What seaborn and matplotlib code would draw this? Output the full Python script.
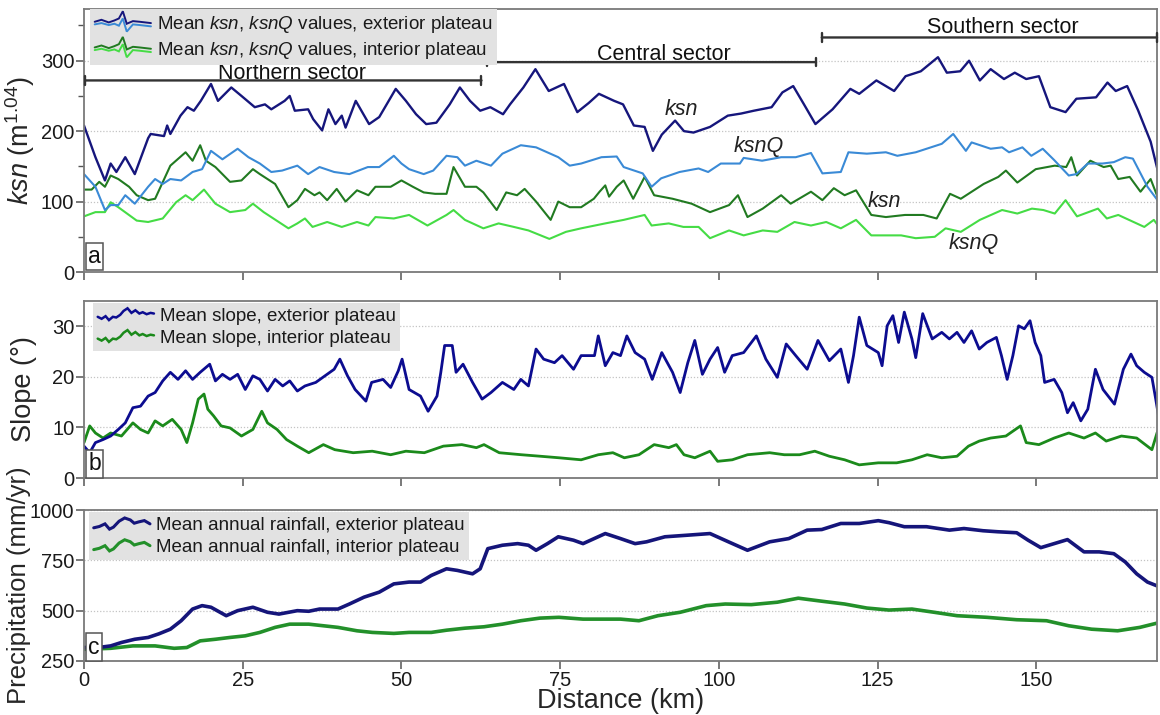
import matplotlib
matplotlib.use("Agg")
import matplotlib.pyplot as plt
import seaborn as sns
from matplotlib.legend_handler import HandlerBase
from matplotlib.lines import Line2D

# ---------------- data ----------------
distance_ticks = [0, 25, 50, 75, 100, 125, 150]

# panel a: ksn / ksnQ
ksn_ext_km = [0, 1.8, 3.3, 4.2, 5.1, 6.5, 8.0, 10.1, 10.5, 12.6,
              13.1, 13.6, 15.2, 16.3, 17.3, 18.4, 20.0, 21.1, 23.2, 24.8,
              26.9, 28.5, 29.5, 31.6, 32.4, 33.2, 35.3, 36.1, 37.5, 38.5,
              39.6, 40.6, 41.2, 42.8, 44.9, 46.5, 49.1, 50.7, 52.3, 53.9,
              55.5, 57.6, 59.2, 60.8, 62.4, 64.0, 66.0, 67.1, 69.2, 71.1,
              73.2, 75.6, 77.7, 79.5, 81.1, 83.5, 84.9, 86.6, 88.3, 89.6,
              91.0, 93.1, 94.5, 96.0, 98.6, 101.4, 103.5, 105.5, 108.3, 110.0,
              111.7, 113.4, 115.2, 117.9, 120.7, 122.1, 124.8, 127.6, 129.4, 131.8,
              134.5, 135.9, 138.0, 139.4, 141.1, 142.8, 144.9, 146.6, 148.4, 150.4,
              152.2, 154.6, 156.3, 159.4, 161.2, 162.5, 164.3, 166.0, 168.0, 169.5]
ksn_ext = [208, 163, 130, 154, 142, 163, 139, 190, 196, 193,
           208, 196, 222, 234, 229, 243, 267, 243, 262, 250,
           234, 238, 231, 243, 250, 229, 231, 217, 201, 231,
           210, 222, 205, 243, 210, 220, 260, 243, 224, 210,
           212, 238, 262, 243, 229, 234, 224, 238, 262, 288,
           257, 267, 227, 240, 253, 243, 238, 208, 206, 172,
           195, 215, 200, 198, 206, 222, 225, 229, 234, 255,
           264, 238, 210, 231, 260, 253, 272, 257, 278, 285,
           305, 283, 285, 300, 272, 288, 274, 283, 274, 278,
           234, 227, 246, 248, 269, 257, 264, 230, 185, 130]

ksnq_ext_km = [0, 1.8, 3.3, 4.2, 5.4, 6.5, 8.0, 10.1, 11.2, 12.4,
               13.6, 15.3, 17.1, 18.6, 20.0, 21.8, 24.2, 25.9, 27.7, 29.5,
               31.2, 33.6, 35.3, 37.1, 39.4, 41.8, 44.7, 46.5, 48.8, 50.0,
               51.2, 53.5, 55.0, 57.1, 58.8, 60.0, 61.8, 64.1, 65.9, 68.8,
               71.2, 74.7, 76.5, 78.3, 81.5, 83.9, 85.0, 88.0, 89.4, 90.9,
               93.8, 96.8, 98.3, 100.3, 103.3, 103.9, 106.8, 109.8, 112.1, 114.5,
               116.3, 119.2, 120.4, 123.3, 126.3, 128.1, 131.0, 135.1, 136.9, 138.9,
               139.8, 142.8, 144.6, 145.7, 147.8, 149.2, 151.0, 152.8, 155.1, 156.3,
               158.1, 160.4, 162.2, 164.0, 165.2, 167.5, 169.5]
ksnq_ext = [139, 121, 88, 95, 95, 109, 97, 121, 132, 125,
            132, 130, 142, 146, 172, 160, 175, 163, 154, 142,
            144, 151, 139, 149, 142, 139, 149, 149, 165, 154,
            146, 139, 144, 165, 163, 151, 158, 151, 168, 180,
            177, 163, 151, 154, 163, 164, 149, 140, 121, 133,
            142, 147, 142, 154, 154, 162, 158, 163, 163, 169,
            140, 142, 170, 168, 170, 165, 170, 182, 196, 172,
            184, 175, 177, 170, 177, 165, 175, 159, 137, 139,
            154, 154, 156, 163, 161, 121, 97]

ksn_int_km = [0, 1.2, 2.4, 3.3, 4.2, 5.4, 7.1, 8.3, 10.1, 11.2,
              13.6, 16.0, 17.1, 18.3, 19.2, 20.7, 23.0, 24.8, 26.6, 27.7,
              30.1, 32.2, 33.6, 34.8, 36.3, 37.1, 38.3, 39.8, 41.2, 43.0,
              44.8, 45.9, 48.3, 50.0, 51.8, 53.5, 55.3, 57.1, 58.2, 60.0,
              61.8, 62.9, 65.0, 66.5, 68.2, 69.4, 71.2, 73.5, 74.7, 76.5,
              78.3, 80.3, 81.2, 82.1, 82.7, 83.9, 85.0, 86.5, 88.3, 89.8,
              92.7, 95.7, 98.6, 101.6, 103.0, 104.5, 106.9, 109.8, 111.3, 114.5,
              116.3, 118.1, 119.8, 121.6, 124.0, 126.3, 129.3, 132.2, 134.3, 136.4,
              138.1, 141.7, 144.0, 145.2, 147.0, 149.9, 152.9, 154.7, 155.5, 156.4,
              158.5, 160.6, 161.7, 162.9, 164.7, 166.4, 168.0, 169.5]
ksn_int = [117, 117, 128, 121, 137, 132, 121, 109, 102, 104,
           151, 170, 158, 180, 158, 149, 128, 130, 146, 139,
           125, 92, 102, 118, 109, 113, 102, 118, 100, 116,
           109, 121, 121, 130, 121, 113, 111, 111, 149, 121,
           121, 113, 88, 113, 109, 118, 100, 74, 100, 92,
           92, 104, 114, 123, 107, 121, 130, 104, 135, 109,
           104, 97, 85, 95, 109, 78, 90, 109, 97, 114,
           102, 119, 109, 116, 81, 78, 81, 81, 76, 111,
           104, 125, 135, 144, 127, 146, 151, 149, 163, 137,
           158, 149, 151, 132, 135, 114, 132, 97]

ksnq_int_km = [0, 1.8, 3.3, 4.2, 5.4, 8.3, 10.1, 12.4, 14.5, 16.0,
               17.1, 18.9, 20.7, 23.0, 25.4, 26.6, 28.3, 32.2, 33.6, 34.8,
               36.0, 38.3, 40.6, 43.0, 44.8, 45.9, 48.8, 51.2, 54.1, 57.1,
               58.2, 60.0, 62.9, 65.3, 67.7, 70.0, 73.3, 75.9, 78.3, 82.1,
               85.0, 88.3, 89.4, 92.1, 94.4, 96.8, 98.6, 101.6, 103.9, 106.9,
               109.2, 111.9, 114.5, 116.9, 119.2, 121.6, 124.0, 126.3, 128.7, 131.0,
               134.0, 135.7, 138.1, 141.1, 144.6, 147.0, 149.3, 151.1, 152.9, 154.6,
               156.4, 159.7, 161.1, 162.9, 167.0, 168.5, 169.5]
ksnq_int = [79, 85, 85, 99, 92, 73, 71, 76, 99, 109,
            102, 117, 97, 85, 88, 97, 85, 62, 69, 76,
            64, 71, 64, 71, 66, 78, 76, 81, 66, 81,
            88, 74, 62, 69, 64, 59, 47, 57, 62, 69,
            74, 81, 66, 69, 64, 64, 48, 59, 52, 59,
            57, 71, 66, 71, 62, 74, 52, 52, 52, 48,
            50, 62, 57, 74, 88, 83, 90, 88, 83, 102,
            79, 90, 76, 81, 64, 74, 62]

# panel b: slope
slope_ext_km = [0, 0.9, 1.8, 3.0, 4.2, 5.4, 6.5, 7.7, 8.9, 10.1,
                11.2, 12.4, 13.6, 14.8, 16.0, 17.1, 18.3, 19.8, 20.7, 21.8,
                23.0, 24.2, 25.4, 26.6, 27.7, 28.9, 30.1, 31.3, 32.4, 33.6,
                34.8, 36.5, 38.3, 39.4, 40.3, 41.5, 42.7, 44.4, 45.3, 47.1,
                48.3, 49.5, 50.1, 51.2, 53.0, 54.2, 55.6, 56.2, 56.8, 58.0,
                58.6, 59.7, 61.2, 62.7, 64.1, 65.9, 67.7, 68.8, 70.0, 71.2,
                72.4, 74.1, 75.3, 77.1, 78.3, 80.4, 81.0, 82.1, 83.3, 84.5,
                85.5, 86.8, 88.3, 89.5, 91.0, 92.7, 93.9, 95.1, 96.2, 97.4,
                98.6, 99.8, 100.9, 102.1, 103.9, 105.9, 107.4, 109.2, 110.6, 112.1,
                113.9, 115.6, 117.4, 119.2, 120.4, 121.2, 122.1, 123.3, 125.1, 125.7,
                126.5, 127.4, 128.3, 129.2, 130.4, 131.0, 132.1, 133.6, 135.1, 136.3,
                137.5, 138.6, 139.8, 141.0, 142.2, 143.7, 144.5, 145.4, 146.3, 147.2,
                148.1, 149.0, 149.8, 150.7, 151.3, 152.8, 154.0, 154.9, 155.8, 157.0,
                158.1, 159.3, 160.5, 162.3, 163.7, 164.9, 165.8, 167.0, 168.2, 168.8,
                169.5]
slope_ext = [6.3, 5.0, 7.0, 7.6, 8.3, 9.6, 10.9, 13.9, 14.2, 16.2,
             16.9, 19.2, 20.9, 19.5, 21.2, 19.5, 20.9, 22.5, 19.2, 20.5,
             19.5, 20.5, 17.5, 20.2, 19.5, 17.2, 19.5, 18.2, 19.2, 17.2,
             18.2, 18.9, 20.5, 21.5, 23.5, 20.2, 17.5, 15.2, 18.9, 19.5,
             17.9, 21.2, 23.5, 17.5, 16.2, 13.2, 16.2, 20.9, 26.2, 26.2,
             20.9, 22.5, 18.9, 15.6, 16.9, 18.9, 17.5, 19.5, 18.2, 25.5,
             23.5, 22.8, 24.2, 21.5, 24.2, 24.2, 28.1, 22.2, 24.8, 24.2,
             28.1, 24.8, 23.5, 19.5, 24.8, 20.9, 16.9, 22.8, 27.2, 20.5,
             23.5, 25.8, 20.9, 24.2, 24.8, 28.1, 23.5, 19.9, 26.5, 24.2,
             21.5, 27.2, 23.2, 25.5, 18.9, 24.2, 31.8, 26.2, 24.8, 22.2,
             30.1, 32.1, 26.8, 32.8, 27.5, 23.8, 32.5, 27.5, 28.8, 27.5,
             28.8, 26.8, 29.1, 25.5, 26.8, 27.8, 24.2, 19.5, 24.2, 30.1,
             29.5, 31.1, 26.8, 24.2, 18.9, 19.5, 16.9, 12.9, 14.9, 11.3,
             13.6, 21.5, 17.5, 14.6, 21.5, 24.5, 22.2, 20.9, 19.9, 15.6,
             10.3]

slope_int_km = [0, 0.9, 1.8, 3.0, 4.2, 5.9, 7.7, 8.9, 10.1, 11.2,
                12.4, 13.9, 15.3, 16.2, 17.1, 18.0, 18.9, 19.5, 20.4, 21.6,
                23.0, 24.8, 26.6, 28.0, 28.9, 30.4, 31.9, 33.6, 35.4, 37.7,
                39.5, 42.4, 45.4, 48.3, 50.7, 53.6, 56.6, 59.5, 61.8, 63.0,
                65.4, 68.9, 71.9, 74.8, 78.3, 81.0, 83.3, 85.1, 87.4, 89.8,
                92.1, 93.3, 94.5, 96.2, 98.6, 99.8, 102.1, 104.5, 108.0, 110.3,
                112.7, 115.1, 117.4, 119.8, 122.1, 125.1, 128.0, 130.4, 132.8, 135.1,
                137.5, 139.3, 141.0, 142.8, 145.2, 147.5, 148.4, 150.4, 152.8, 155.1,
                157.5, 159.3, 161.0, 163.4, 165.8, 168.2, 169.0, 169.5]
slope_int = [7.0, 10.3, 8.9, 7.9, 8.9, 8.3, 10.9, 9.6, 8.9, 11.3,
             10.3, 11.6, 9.6, 7.0, 10.9, 15.6, 16.6, 13.6, 12.3, 10.3,
             9.9, 8.3, 9.6, 13.2, 10.9, 9.6, 7.6, 6.3, 5.0, 6.6,
             5.6, 5.0, 5.3, 4.6, 5.3, 5.0, 6.3, 6.6, 6.0, 6.6,
             5.0, 4.6, 4.3, 4.0, 3.6, 4.6, 5.0, 4.0, 4.6, 6.6,
             6.0, 6.6, 4.6, 4.0, 5.3, 3.3, 3.6, 4.6, 5.0, 4.6,
             4.6, 5.3, 4.3, 3.6, 2.6, 3.0, 3.0, 3.6, 4.6, 4.0,
             4.3, 6.3, 7.3, 7.9, 8.3, 10.3, 7.0, 6.6, 7.9, 8.9,
             7.9, 8.9, 7.3, 8.3, 7.9, 5.6, 8.9, 10.3]

# panel c: precipitation
rain_ext_km = [0, 2.5, 4.2, 5.9, 8.0, 10.1, 11.8, 13.6, 15.3, 17.1,
               18.6, 20.0, 22.4, 24.2, 26.6, 28.9, 30.7, 33.6, 35.4, 37.1,
               40.0, 41.8, 44.1, 46.5, 48.8, 51.2, 53.0, 54.7, 57.1, 58.8,
               61.2, 62.4, 63.6, 65.9, 68.3, 70.0, 71.2, 73.0, 74.7, 77.1,
               78.6, 82.1, 84.5, 86.8, 88.6, 91.5, 95.1, 98.6, 101.5, 104.5,
               108.0, 111.0, 113.9, 116.2, 119.2, 122.1, 125.1, 126.8, 129.2, 132.7,
               136.3, 138.6, 141.6, 143.9, 146.9, 148.7, 150.7, 152.8, 154.9, 157.5,
               159.9, 162.2, 164.0, 165.8, 167.5, 169.5]
rain_ext = [317, 318, 325, 342, 358, 367, 385, 408, 450, 508,
            525, 517, 475, 500, 517, 492, 483, 500, 497, 508,
            508, 533, 567, 592, 633, 642, 642, 675, 708, 700,
            683, 708, 808, 825, 833, 825, 800, 833, 867, 850,
            833, 883, 858, 833, 842, 867, 875, 883, 842, 800,
            842, 858, 900, 903, 933, 933, 947, 937, 917, 917,
            900, 908, 897, 892, 887, 850, 813, 833, 853, 792,
            792, 783, 742, 683, 642, 617]

rain_int_km = [0, 4.2, 7.7, 11.2, 14.2, 16.2, 18.3, 20.7, 23.0, 25.4,
               27.7, 30.1, 32.4, 35.4, 37.7, 40.0, 43.0, 45.4, 48.8, 51.2,
               54.7, 57.1, 60.0, 63.0, 65.9, 68.8, 71.8, 74.8, 78.6, 84.5,
               87.4, 90.4, 93.9, 98.0, 101.0, 105.1, 109.2, 112.5, 116.2, 119.8,
               123.3, 126.8, 130.4, 133.9, 137.5, 142.2, 146.9, 151.6, 155.1, 158.7,
               162.8, 166.3, 169.5]
rain_int = [308, 313, 325, 325, 313, 317, 350, 358, 367, 375,
            392, 417, 433, 433, 425, 417, 400, 392, 387, 392,
            392, 403, 413, 420, 433, 450, 463, 467, 458, 458,
            450, 475, 492, 525, 533, 530, 542, 562, 547, 533,
            513, 503, 508, 492, 475, 467, 455, 450, 425, 408,
            400, 417, 442]

# sector bars (km) and labels
sector_names = ["Northern sector", "Central sector", "Southern sector"]
sector_start = [0.2, 63.4, 116.2]
sector_end = [62.6, 115.3, 169.0]
sector_level = [272, 298, 333]
sector_label_x = [32.8, 91.3, 144.7]
sector_label_y = [274, 301, 339]

# ---------------- colours ----------------
C_KSN_EXT = "#16167c"
C_KSNQ_EXT = "#3a8ad6"
C_KSN_INT = "#217a21"
C_KSNQ_INT = "#45dc45"
C_SLOPE_EXT = "#0c0c90"
C_SLOPE_INT = "#1b8a1b"
C_RAIN_EXT = "#15157a"
C_RAIN_INT = "#23902a"

sns.set_theme(style="white")
plt.rcParams["font.family"] = ["Liberation Sans", "DejaVu Sans"]
plt.rcParams["mathtext.fontset"] = "custom"
plt.rcParams["mathtext.rm"] = "Liberation Sans"
plt.rcParams["mathtext.it"] = "Liberation Sans:italic"
plt.rcParams["mathtext.bf"] = "Liberation Sans:bold"


class Wiggle:
    def __init__(self, colors, xs, ys_list, lws):
        self.colors = colors
        self.xs = xs
        self.ys_list = ys_list
        self.lws = lws


class WiggleHandler(HandlerBase):
    def create_artists(self, legend, orig_handle, xdescent, ydescent,
                       width, height, fontsize, trans):
        arts = []
        for c, ys, lw in zip(orig_handle.colors, orig_handle.ys_list, orig_handle.lws):
            xx = [-xdescent + x * width for x in orig_handle.xs]
            yy = [-ydescent + y * height for y in ys]
            ln = Line2D(xx, yy, color=c, lw=lw, solid_joinstyle="miter")
            ln.set_transform(trans)
            arts.append(ln)
        return arts


spike_x = [0, 0.12, 0.25, 0.35, 0.43, 0.5, 0.57, 0.68, 0.8, 1.0]
spike_hi = [0.55, 0.7, 0.5, 0.65, 0.8, 1.35, 0.4, 0.6, 0.55, 0.45]
spike_lo = [0.35, 0.45, 0.3, 0.4, 0.25, 0.8, -0.2, 0.35, 0.3, 0.2]
noisy_x = [0, 0.07, 0.14, 0.2, 0.27, 0.33, 0.4, 0.46, 0.53, 0.6, 0.67, 0.74, 0.8, 0.87, 0.94, 1.0]
noisy_y = [0.3, 0.15, 0.35, 0.05, 0.3, 0.25, 0.45, 0.75, 0.95, 0.6, 0.8, 0.55, 0.65, 0.5, 0.6, 0.55]
wave_x = [0, 0.1, 0.2, 0.28, 0.35, 0.45, 0.55, 0.65, 0.72, 0.8, 0.9, 1.0]
wave_y = [0.15, 0.25, 0.45, 0.05, 0.2, 0.65, 0.9, 0.75, 0.5, 0.6, 0.7, 0.45]

fig = plt.figure(figsize=(11.6, 7.15), dpi=100)
L, W = 84 / 1160, 1073 / 1160
axA = fig.add_axes([L, 1 - 272 / 715, W, 262.7 / 715])
axB = fig.add_axes([L, 1 - 478 / 715, W, 177 / 715])
axC = fig.add_axes([L, 1 - 661 / 715, W, 151 / 715])

LW_A = 1.5
sns.lineplot(x=ksnq_int_km, y=ksnq_int, ax=axA, color=C_KSNQ_INT, lw=LW_A, estimator=None, sort=False)
sns.lineplot(x=ksn_int_km, y=ksn_int, ax=axA, color=C_KSN_INT, lw=LW_A, estimator=None, sort=False)
sns.lineplot(x=ksnq_ext_km, y=ksnq_ext, ax=axA, color=C_KSNQ_EXT, lw=LW_A, estimator=None, sort=False)
sns.lineplot(x=ksn_ext_km, y=ksn_ext, ax=axA, color=C_KSN_EXT, lw=LW_A + 0.2, estimator=None, sort=False)

sns.lineplot(x=slope_int_km, y=slope_int, ax=axB, color=C_SLOPE_INT, lw=2.0, estimator=None, sort=False)
sns.lineplot(x=slope_ext_km, y=slope_ext, ax=axB, color=C_SLOPE_EXT, lw=2.0, estimator=None, sort=False)

sns.lineplot(x=rain_int_km, y=rain_int, ax=axC, color=C_RAIN_INT, lw=2.6, estimator=None, sort=False)
sns.lineplot(x=rain_ext_km, y=rain_ext, ax=axC, color=C_RAIN_EXT, lw=2.6, estimator=None, sort=False)

axA.set_ylim(0, 373)
axA.set_yticks([0, 100, 200, 300])
axA.set_yticks([50, 150, 250, 350], minor=True)
axB.set_ylim(0, 35)
axB.set_yticks([0, 10, 20, 30])
axC.set_ylim(250, 1000)
axC.set_yticks([250, 500, 750, 1000])

for ax in (axA, axB, axC):
    ax.set_xlim(0, 169)
    ax.set_xticks(distance_ticks)
    ax.set_xlabel("")
    for s in ax.spines.values():
        s.set_visible(True)
        s.set_color("#7a7a7a")
        s.set_linewidth(1.3)
    ax.tick_params(axis="both", which="major", direction="out", length=6, width=1.1,
                   color="#555555", labelsize=14.5, labelcolor="#1a1a1a", pad=1,
                   bottom=True, left=True)
    ax.tick_params(axis="y", which="minor", direction="out", length=4, width=1.0,
                   color="#555555", left=True)
    ax.yaxis.grid(True, which="major", ls=(0, (1, 1.5)), color="#c4c4c4", lw=0.9)
    ax.xaxis.grid(False)
    ax.set_axisbelow(True)

axA.tick_params(axis="x", labelbottom=False)
axB.tick_params(axis="x", labelbottom=False)

axA.set_ylabel("$ksn$ (m$^{1.04}$)", fontsize=19.5)
axB.set_ylabel("Slope (°)", fontsize=19.5)
axC.set_ylabel("Precipitation (mm/yr)", fontsize=18.5)
axC.set_xlabel("Distance (km)", fontsize=19.5, labelpad=-1)
axA.yaxis.set_label_coords(-0.044, 0.5)
axB.yaxis.set_label_coords(-0.044, 0.5)
axC.yaxis.set_label_coords(-0.049, 0.5)

# sector bars
for name, x0, x1, lev, tx, ty in zip(sector_names, sector_start, sector_end,
                                     sector_level, sector_label_x, sector_label_y):
    axA.annotate("", xy=(x0, lev), xytext=(x1, lev),
                 arrowprops=dict(arrowstyle="|-|, widthA=0.25, widthB=0.25",
                                 color="#333333", lw=1.7, shrinkA=0, shrinkB=0))
    axA.text(tx, ty, name, ha="center", va="baseline", fontsize=15.5, color="#111111")

# curve labels in panel a
axA.text(94.1, 231, "ksn", style="italic", fontsize=15.5, ha="center", va="center", color="#222222")
axA.text(106.2, 178, "ksnQ", style="italic", fontsize=15.5, ha="center", va="center", color="#222222")
axA.text(126.1, 100, "ksn", style="italic", fontsize=15.5, ha="center", va="center", color="#222222")
axA.text(140.1, 41, "ksnQ", style="italic", fontsize=15.5, ha="center", va="center", color="#222222")

# panel letters
for ax, letter in ((axA, "a"), (axB, "b"), (axC, "c")):
    ax.text(0.004, 0.015, letter, transform=ax.transAxes, fontsize=16.5,
            ha="left", va="bottom", color="#111111",
            bbox=dict(boxstyle="square,pad=0.1", fc="white", ec="#555555", lw=1.1))

# legends
hmap = {Wiggle: WiggleHandler()}
leg_kw = dict(loc="upper left", borderaxespad=0, frameon=True, fancybox=False,
              framealpha=1, borderpad=0.25, handletextpad=0.3,
              labelspacing=0.25, handlelength=3.0, fontsize=13.5, handler_map=hmap)

hA1 = Wiggle([C_KSNQ_EXT, C_KSN_EXT], spike_x, [spike_lo, spike_hi], [1.4, 1.4])
hA2 = Wiggle([C_KSNQ_INT, C_KSN_INT], spike_x, [spike_lo, spike_hi], [1.4, 1.4])
legA = axA.legend([hA1, hA2],
                  ["Mean $ksn$, $ksnQ$ values, exterior plateau",
                   "Mean $ksn$, $ksnQ$ values, interior plateau"],
                  bbox_to_anchor=(0.0056, 1.0), **leg_kw)

hB1 = Wiggle([C_SLOPE_EXT], noisy_x, [noisy_y], [1.8])
hB2 = Wiggle([C_SLOPE_INT], noisy_x, [noisy_y], [1.8])
legB = axB.legend([hB1, hB2], ["Mean slope, exterior plateau", "Mean slope, interior plateau"],
                  bbox_to_anchor=(0.0084, 0.989), **leg_kw)

hC1 = Wiggle([C_RAIN_EXT], wave_x, [wave_y], [2.2])
hC2 = Wiggle([C_RAIN_INT], wave_x, [wave_y], [2.2])
legC = axC.legend([hC1, hC2],
                  ["Mean annual rainfall, exterior plateau", "Mean annual rainfall, interior plateau"],
                  bbox_to_anchor=(0.0047, 0.987), **leg_kw)

for lg in (legA, legB, legC):
    fr = lg.get_frame()
    fr.set_facecolor("#e2e2e2")
    fr.set_edgecolor("none")
    fr.set_linewidth(0)
    for t in lg.get_texts():
        t.set_color("#1a1a1a")

fig.savefig("out.png", dpi=100)
